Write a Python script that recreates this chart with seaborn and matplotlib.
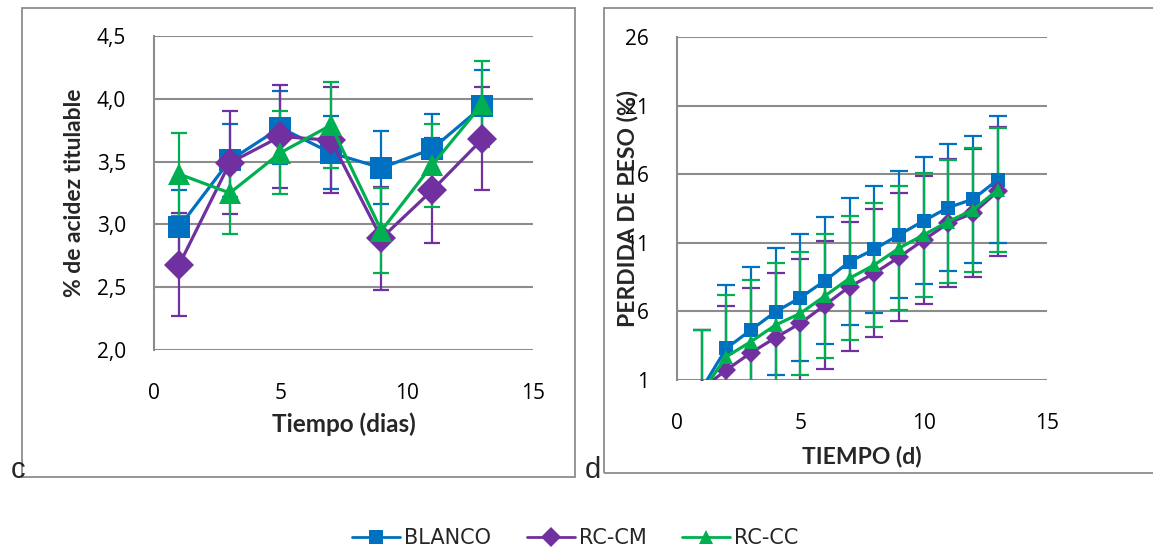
import numpy as np
import pandas as pd
import matplotlib
matplotlib.use("Agg")
import matplotlib.pyplot as plt
from matplotlib.lines import Line2D
from matplotlib.patches import Rectangle
from matplotlib.ticker import FuncFormatter
import seaborn as sns

# ---------------- data ----------------
series = ["BLANCO", "RC-CM", "RC-CC"]

# panel c: % de acidez titulable
days_c = [1, 3, 5, 7, 9, 11, 13]
acid_blanco = [2.98, 3.51, 3.77, 3.57, 3.45, 3.60, 3.94]
acid_rccm = [2.68, 3.49, 3.70, 3.67, 2.89, 3.27, 3.68]
acid_rccc = [3.40, 3.25, 3.57, 3.79, 2.95, 3.47, 3.96]
acid_err_blanco = [0.29, 0.29, 0.29, 0.29, 0.29, 0.28, 0.29]
acid_err_rccm = [0.41, 0.41, 0.41, 0.42, 0.41, 0.42, 0.41]
acid_err_rccc = [0.33, 0.33, 0.33, 0.34, 0.34, 0.33, 0.34]

# panel d: perdida de peso (%)
days_d = [1, 2, 3, 4, 5, 6, 7, 8, 9, 10, 11, 12, 13]
peso_blanco = [0.35, 3.31, 4.65, 5.98, 7.00, 8.24, 9.63, 10.53, 11.58, 12.60, 13.57, 14.18, 15.59]
peso_rccm = [0.35, 1.73, 2.99, 4.09, 5.13, 6.47, 7.81, 8.78, 9.95, 11.21, 12.43, 13.16, 14.74]
peso_rccc = [0.10, 2.70, 3.80, 5.01, 5.86, 7.13, 8.42, 9.39, 10.61, 11.58, 12.55, 13.40, 14.86]
peso_err_blanco = [4.30] + [4.62] * 12
peso_err_rccm = [4.30] + [4.68] * 12
peso_err_rccc = [4.55] + [4.50] * 12

colors = {"BLANCO": "#0070C0", "RC-CM": "#7030A0", "RC-CC": "#00B050"}
markers = {"BLANCO": "s", "RC-CM": "D", "RC-CC": "^"}

# ---------------- figure ----------------
sns.set_theme(style="white")
plt.rcParams["font.family"] = ["Lato", "DejaVu Sans"]

W, H = 1153, 550
fig = plt.figure(figsize=(W / 100, H / 100), dpi=100)

def fbox(x0, y0, x1, y1):
    return [x0 / W, (H - y1) / H, (x1 - x0) / W, (y1 - y0) / H]

# outer boxes
for (x0, y0, x1, y1) in [(22, 8, 575, 477), (604, 8, 1160, 473)]:
    fig.patches.append(Rectangle((x0 / W, (H - y1) / H), (x1 - x0) / W, (y1 - y0) / H,
                                 transform=fig.transFigure, fill=False,
                                 edgecolor="#8c8c8c", linewidth=1.3))

fig.text(11 / W, (H - 470) / H, "c", fontsize=21, ha="left", va="center", family="Liberation Sans")
fig.text(585 / W, (H - 470) / H, "d", fontsize=21, ha="left", va="center", family="Liberation Sans")

axc = fig.add_axes(fbox(154, 36, 533, 350))
axd = fig.add_axes(fbox(677, 37, 1047, 380))

comma = FuncFormatter(lambda v, p: f"{v:.1f}".replace(".", ","))

def draw(ax, days, vals, errs, ms, lw, capsize):
    rows = []
    for s in series:
        for d, v in zip(days, vals[s]):
            rows.append({"dia": d, "valor": v, "serie": s})
    df = pd.DataFrame(rows)
    for s in series:
        ax.errorbar(days, vals[s], yerr=errs[s], fmt="none", ecolor=colors[s],
                    elinewidth=1.6, capsize=capsize, capthick=1.6, zorder=2)
    sns.lineplot(data=df, x="dia", y="valor", hue="serie", style="serie",
                 hue_order=series, style_order=series, palette=colors,
                 markers=markers, dashes=False, linewidth=lw, markersize=ms,
                 markeredgewidth=0, legend=False, ax=ax, zorder=3, sort=False)

draw(axc, days_c,
     {"BLANCO": acid_blanco, "RC-CM": acid_rccm, "RC-CC": acid_rccc},
     {"BLANCO": acid_err_blanco, "RC-CM": acid_err_rccm, "RC-CC": acid_err_rccc},
     ms=15.5, lw=2.3, capsize=6)
draw(axd, days_d,
     {"BLANCO": peso_blanco, "RC-CM": peso_rccm, "RC-CC": peso_rccc},
     {"BLANCO": peso_err_blanco, "RC-CM": peso_err_rccm, "RC-CC": peso_err_rccc},
     ms=10.5, lw=2.3, capsize=6.5)

for ax in (axc, axd):
    ax.set_xlim(0, 15)
    ax.set_xticks([0, 5, 10, 15])
    ax.grid(axis="y", color="#8c8c8c", linewidth=1.5)
    ax.grid(axis="x", visible=False)
    ax.set_axisbelow(True)
    for sp in ("top", "right", "bottom"):
        ax.spines[sp].set_visible(False)
    ax.spines["left"].set_color("#8c8c8c")
    ax.spines["left"].set_linewidth(1.5)
    ax.tick_params(axis="both", length=0, labelsize=15, colors="black")
    ax.tick_params(axis="x", pad=24)
    ax.tick_params(axis="y", pad=20)
    for lab in ax.get_xticklabels() + ax.get_yticklabels():
        lab.set_fontfamily(["Open Sans", "DejaVu Sans"])

axc.set_ylim(2.0, 4.5)
axc.set_yticks([2.0, 2.5, 3.0, 3.5, 4.0, 4.5])
axc.yaxis.set_major_formatter(comma)
axc.set_xlabel("Tiempo (dias)", fontsize=17.5, fontweight="bold")
axc.set_ylabel("% de acidez titulable", fontsize=16.5, fontweight="bold")
axc.xaxis.set_label_coords(0.5, -0.2)
axc.yaxis.set_label_coords(-0.182, 0.5)

axd.set_ylim(1, 26)
axd.set_yticks([1, 6, 11, 16, 21, 26])
axd.set_xlabel("TIEMPO (d)", fontsize=16.5, fontweight="bold")
axd.set_ylabel("PERDIDA DE PESO (%)", fontsize=16.5, fontweight="bold")
axd.xaxis.set_label_coords(0.5, -0.19)
axd.yaxis.set_label_coords(-0.105, 0.5)
axd.yaxis.label.set_zorder(5)

handles = [Line2D([0], [0], color=colors[s], marker=markers[s], markersize=10.5,
                  markeredgewidth=0, linewidth=2) for s in series]
fig.legend(handles, series, loc="center", bbox_to_anchor=(0.499, (H - 538) / H),
           ncol=3, frameon=False, handlelength=2.3,
           columnspacing=1.7, handletextpad=0.2,
           prop={"family": ["DejaVu Sans"], "size": 15})

fig.savefig("out.png", dpi=100)
